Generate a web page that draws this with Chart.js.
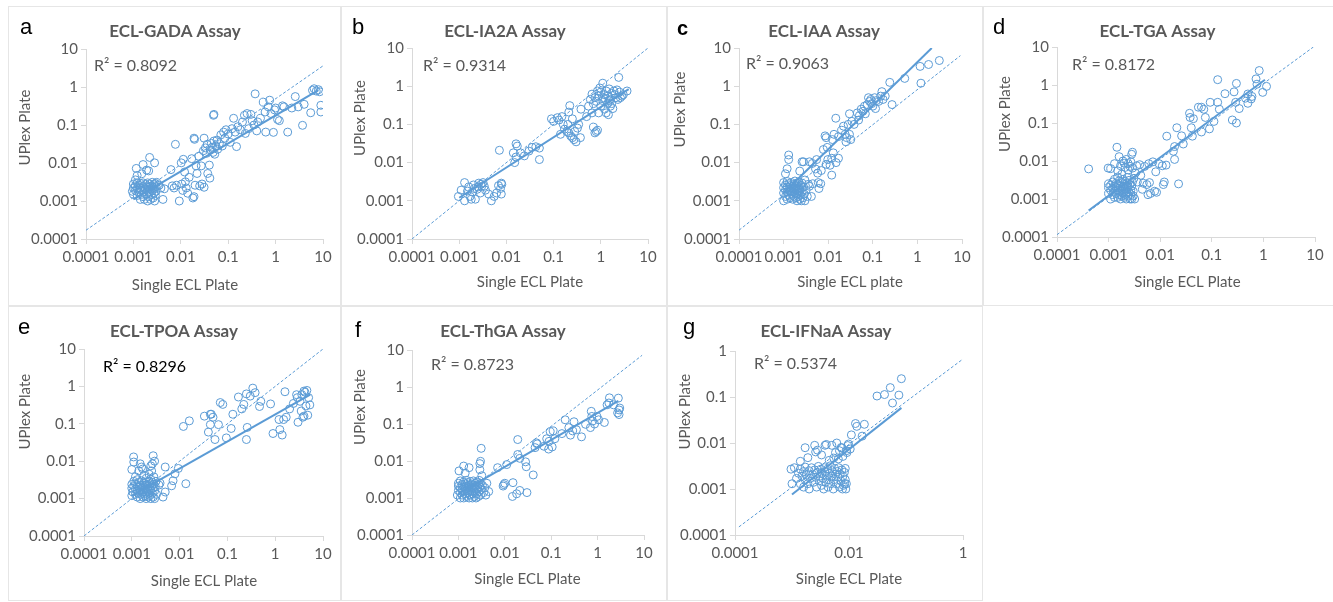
<!DOCTYPE html>
<html>
<head>
<meta charset="utf-8">
<title>Single ECL vs UPlex plate</title>
<script src="https://cdn.jsdelivr.net/npm/chart.js@4.4.1/dist/chart.umd.min.js"></script>
<style>
  body { margin: 0; background: #fff; width: 1333px; height: 602px; overflow: hidden; position: relative; }
  .frame { position: absolute; box-sizing: border-box; border: 1.5px solid #e6e6e6; }
  canvas { position: absolute; }
</style>
</head>
<body>
<script>
// axis ticks
const decadeTicks = [0.0001, 0.001, 0.01, 0.1, 1, 10];
const decadeLabels = ['0.0001', '0.001', '0.01', '0.1', '1', '10'];
const ifnXTicks = [0.0001, 0.01, 1];
const ifnXLabels = ['0.0001', '0.01', '1'];
const ifnYTicks = [0.0001, 0.001, 0.01, 0.1, 1];
const ifnYLabels = ['0.0001', '0.001', '0.01', '0.1', '1'];

// a - GADA  [single ECL, UPlex]
const gadaPoints = [
  [0.00095,0.0018],[0.001,0.0015],[0.001,0.0022],[0.001,0.0028],[0.0011,0.0019],[0.0011,0.0025],[0.0011,0.0036],[0.0012,0.0014],
  [0.0012,0.0021],[0.0012,0.003],[0.0013,0.0017],[0.0013,0.0026],[0.0014,0.0011],[0.0014,0.0022],[0.0014,0.0029],[0.0015,0.0015],
  [0.0015,0.0019],[0.0016,0.0013],[0.0016,0.0024],[0.0016,0.003],[0.0017,0.0018],[0.0017,0.0011],[0.0018,0.0021],[0.0018,0.0027],
  [0.0019,0.0015],[0.0019,0.0024],[0.002,0.001],[0.002,0.0019],[0.002,0.003],[0.0021,0.0013],[0.0021,0.0023],[0.0022,0.0017],
  [0.0022,0.0028],[0.0023,0.0011],[0.0023,0.0021],[0.0024,0.0015],[0.0024,0.0025],[0.0025,0.0031],[0.0025,0.0019],[0.0026,0.0012],
  [0.0026,0.0023],[0.0027,0.0016],[0.0027,0.0027],[0.0028,0.001],[0.0028,0.0021],[0.0029,0.0014],[0.0029,0.0029],[0.003,0.0018],
  [0.003,0.0024],[0.0031,0.0031],[0.00115,0.0072],[0.0016,0.0091],[0.0022,0.014],[0.0028,0.0101],[0.0019,0.0065],[0.0015,0.0052],
  [0.0021,0.0062],[0.0012,0.0047],[0.0035,0.0026],[0.0038,0.0022],[0.0042,0.0011],[0.0045,0.0021],[0.0062,0.0067],[0.0066,0.0025],
  [0.0072,0.0022],[0.0077,0.031],[0.0081,0.0026],[0.0093,0.001],[0.0102,0.0101],[0.0105,0.0028],[0.011,0.0019],[0.0113,0.0125],
  [0.012,0.0058],[0.0125,0.0032],[0.013,0.0022],[0.014,0.0016],[0.015,0.0042],[0.017,0.013],[0.018,0.0012],[0.019,0.0013],
  [0.019,0.045],[0.0195,0.042],[0.02,0.0026],[0.021,0.0084],[0.022,0.0053],[0.024,0.015],[0.025,0.0025],[0.027,0.0084],
  [0.028,0.0028],[0.031,0.0023],[0.031,0.045],[0.03,0.021],[0.033,0.025],[0.035,0.018],[0.036,0.031],[0.037,0.0053],
  [0.04,0.0088],[0.041,0.004],[0.042,0.022],[0.044,0.033],[0.046,0.026],[0.048,0.019],[0.049,0.18],[0.05,0.19],
  [0.05,0.038],[0.052,0.017],[0.055,0.028],[0.058,0.04],[0.06,0.023],[0.065,0.032],[0.07,0.055],[0.075,0.028],
  [0.08,0.065],[0.085,0.045],[0.09,0.075],[0.1,0.058],[0.11,0.035],[0.12,0.08],[0.13,0.15],[0.14,0.065],
  [0.15,0.027],[0.16,0.09],[0.18,0.075],[0.2,0.12],[0.22,0.18],[0.23,0.06],[0.25,0.2],[0.27,0.08],
  [0.3,0.19],[0.32,0.13],[0.35,0.1],[0.37,0.66],[0.4,0.07],[0.42,0.12],[0.48,0.15],[0.55,0.4],
  [0.6,0.22],[0.62,0.065],[0.7,0.3],[0.75,0.45],[0.8,0.2],[0.9,0.064],[0.95,0.25],[1.0,0.28],
  [1.1,0.14],[1.2,0.13],[1.4,0.32],[1.5,0.3],[1.8,0.065],[2.2,0.28],[2.6,0.56],[3.0,0.3],
  [3.7,0.098],[4.0,0.35],[5.5,0.21],[6.0,0.82],[6.5,0.9],[7.2,0.78],[8.0,0.85],[8.5,0.75],[9.0,0.33],[9.0,0.22]
];
const gadaTrend = [[0.001, 0.0011], [8, 0.83]];
const gadaDiag = [[0.0001, 0.00017], [10, 3.6]];

// b - IA2A
const ia2aPoints = [
  [0.00096,0.0013],[0.0011,0.0019],[0.0013,0.001],[0.0013,0.003],[0.0016,0.0023],[0.0017,0.0013],[0.0019,0.0017],[0.002,0.0026],
  [0.0022,0.0011],[0.0024,0.002],[0.0026,0.0029],[0.003,0.0024],[0.0032,0.003],[0.0028,0.0016],[0.0036,0.0019],[0.0042,0.0015],
  [0.0048,0.001],[0.0055,0.0013],[0.0062,0.0016],[0.0068,0.0025],[0.0075,0.0021],[0.0078,0.0029],[0.008,0.0027],[0.0078,0.0015],
  [0.0025,0.0023],[0.0021,0.0021],[0.0015,0.0018],[0.0029,0.0027],[0.0034,0.0024],[0.0018,0.0011],
  [0.0071,0.021],[0.014,0.018],[0.016,0.031],[0.017,0.027],[0.015,0.01],[0.016,0.014],[0.02,0.018],[0.024,0.015],
  [0.03,0.02],[0.035,0.025],[0.042,0.026],[0.05,0.024],[0.05,0.012],
  [0.09,0.14],[0.1,0.12],[0.12,0.15],[0.13,0.13],[0.15,0.16],[0.16,0.1],[0.14,0.055],[0.17,0.075],
  [0.19,0.065],[0.21,0.21],[0.21,0.06],[0.22,0.31],[0.23,0.05],[0.25,0.045],[0.27,0.04],[0.28,0.065],
  [0.3,0.035],[0.32,0.08],[0.34,0.1],[0.37,0.045],[0.38,0.25],[0.25,0.14],[0.2,0.1],
  [0.55,0.3],[0.6,0.45],[0.65,0.62],[0.7,0.085],[0.75,0.06],[0.8,0.065],[0.85,0.07],[0.75,0.5],
  [0.85,0.75],[0.9,0.55],[1.0,0.7],[1.1,0.42],[1.15,0.5],[1.2,0.6],[1.3,0.75],[1.4,0.55],
  [1.5,0.42],[1.6,0.45],[1.7,0.35],[1.8,0.26],[2.0,0.6],[2.1,0.5],[2.3,0.45],[2.5,0.7],
  [2.8,0.55],[3.0,0.6],[3.6,0.75],[2.4,1.7],[1.1,1.2],[1.0,0.3],[1.2,0.25],[1.4,0.35],
  [1.6,0.3],[0.9,0.2],[1.3,0.2],[1.7,0.65],[2.2,0.8],[0.8,0.4],[0.95,0.9],[1.5,0.85],
  [1.9,0.75],[0.65,0.2],[0.7,0.35],[1.25,0.45],[2.6,0.5],[0.5,0.16],[1.45,0.18]
];
const ia2aTrend = [[0.001, 0.0012], [3.9, 0.84]];
const ia2aDiag = [[0.0001, 0.0001], [10, 10]];

// c - IAA
const iaaPoints = [
  [0.001,0.001],[0.001,0.0016],[0.001,0.0022],[0.001,0.003],[0.0011,0.0013],[0.0011,0.0019],[0.0011,0.0026],[0.0012,0.0011],
  [0.0012,0.0017],[0.0012,0.0023],[0.0012,0.0032],[0.0013,0.0014],[0.0013,0.002],[0.0013,0.0028],[0.0014,0.0012],[0.0014,0.0018],
  [0.0014,0.0025],[0.0015,0.0015],[0.0015,0.0021],[0.0015,0.003],[0.0016,0.0011],[0.0016,0.0017],[0.0016,0.0024],[0.0017,0.0013],
  [0.0017,0.002],[0.0017,0.0027],[0.0018,0.0016],[0.0018,0.0022],[0.0018,0.0033],[0.0019,0.0012],[0.0019,0.0019],[0.0019,0.0025],
  [0.002,0.001],[0.002,0.0015],[0.002,0.0021],[0.002,0.0029],[0.0021,0.0013],[0.0021,0.0018],[0.0021,0.0024],[0.0022,0.0016],
  [0.0022,0.0022],[0.0022,0.0031],[0.0023,0.0011],[0.0023,0.0019],[0.0024,0.0014],[0.0024,0.0026],[0.0025,0.001],[0.0025,0.0021],
  [0.0026,0.0017],[0.0026,0.0029],[0.0027,0.0012],[0.0028,0.0023],[0.0029,0.0015],[0.003,0.001],[0.003,0.0035],[0.0032,0.0019],
  [0.0034,0.0013],[0.0036,0.0027],
  [0.0013,0.0158],[0.0013,0.012],[0.0012,0.0069],[0.0011,0.0051],[0.0026,0.0105],[0.0028,0.0105],[0.0038,0.0105],[0.0044,0.0095],
  [0.0023,0.006],[0.0055,0.012],[0.0052,0.0068],[0.0058,0.0053],[0.006,0.003],[0.0068,0.0028],[0.0062,0.0021],[0.0045,0.0028],
  [0.0042,0.0013],[0.0038,0.0024],[0.007,0.0062],[0.0078,0.022],[0.0085,0.05],[0.009,0.045],[0.0095,0.025],[0.009,0.009],
  [0.0098,0.012],[0.011,0.0085],[0.012,0.0047],[0.012,0.013],[0.013,0.018],[0.0148,0.145],[0.0135,0.055],[0.0125,0.04],
  [0.015,0.01],[0.017,0.013],[0.017,0.048],[0.02,0.07],[0.022,0.09],[0.024,0.055],[0.025,0.035],[0.026,0.045],
  [0.028,0.1],[0.03,0.19],[0.03,0.055],[0.032,0.04],[0.034,0.12],[0.038,0.1],[0.045,0.2],[0.048,0.13],
  [0.05,0.17],[0.055,0.25],[0.06,0.22],[0.065,0.3],[0.068,0.19],[0.075,0.33],[0.08,0.5],[0.085,0.4],
  [0.09,0.45],[0.095,0.35],[0.1,0.3],[0.11,0.5],[0.115,0.26],[0.12,0.42],[0.135,0.4],[0.15,0.55],
  [0.16,0.72],[0.17,0.45],[0.19,0.55],[0.24,1.26],[0.27,0.33],[0.52,1.6],[1.15,3.3],[1.2,1.2],[1.78,3.7],[3.1,4.7]
];
const iaaTrend = [[0.001, 0.0016], [2.1, 10]];
const iaaDiag = [[0.0001, 0.00017], [9.2, 6.3]];

// d - TGA
const tgaPoints = [
  [0.001,0.0014],[0.001,0.002],[0.001,0.0025],[0.0011,0.001],[0.0011,0.0017],[0.0011,0.0023],[0.0012,0.0013],[0.0012,0.0019],
  [0.0012,0.0028],[0.0013,0.0011],[0.0013,0.0016],[0.0013,0.0022],[0.0013,0.0033],[0.0014,0.0014],[0.0014,0.002],[0.0014,0.0026],
  [0.0015,0.0011],[0.0015,0.0017],[0.0015,0.0024],[0.0015,0.0038],[0.0016,0.0013],[0.0016,0.0019],[0.0016,0.003],[0.0017,0.001],
  [0.0017,0.0016],[0.0017,0.0022],[0.0018,0.0012],[0.0018,0.0018],[0.0018,0.0027],[0.0018,0.0045],[0.0019,0.0014],[0.0019,0.0021],
  [0.0019,0.0033],[0.002,0.0011],[0.002,0.0016],[0.002,0.0024],[0.0021,0.0013],[0.0021,0.0019],[0.0021,0.0029],[0.0022,0.001],
  [0.0022,0.0015],[0.0022,0.0022],[0.0023,0.0018],[0.0023,0.0026],[0.0023,0.0037],[0.0024,0.0012],[0.0024,0.0021],[0.0025,0.0015],
  [0.0025,0.0031],[0.0026,0.001],[0.0026,0.0024],[0.0027,0.0017],[0.0027,0.0013],[0.0028,0.0022],[0.0028,0.001],[0.0029,0.0028],
  [0.003,0.0016],[0.003,0.0012],[0.0031,0.0035],[0.0032,0.001],
  [0.00041,0.0062],[0.00098,0.0065],[0.0011,0.0063],[0.00145,0.023],[0.0016,0.013],[0.0013,0.0085],[0.0017,0.0075],[0.0019,0.01],
  [0.002,0.0088],[0.0021,0.0068],[0.0022,0.011],[0.0024,0.0085],[0.0026,0.0072],[0.0027,0.0095],[0.0028,0.015],[0.0029,0.017],
  [0.0015,0.0055],[0.0024,0.0058],[0.0029,0.0065],[0.0033,0.0048],[0.0035,0.0075],[0.0036,0.0028],[0.004,0.008],[0.0042,0.0042],
  [0.0045,0.0018],[0.0047,0.0026],[0.005,0.0072],[0.0055,0.0024],[0.006,0.0085],[0.0058,0.0013],[0.0062,0.0027],[0.0065,0.0014],
  [0.0072,0.0095],[0.0078,0.0016],[0.0082,0.0052],[0.0085,0.0015],[0.0095,0.0085],[0.011,0.0075],[0.0115,0.0024],[0.012,0.0028],
  [0.013,0.0078],[0.0134,0.045],[0.018,0.018],[0.019,0.011],[0.019,0.024],[0.021,0.075],[0.0227,0.0025],[0.026,0.046],
  [0.028,0.028],[0.037,0.18],[0.038,0.14],[0.04,0.075],[0.042,0.045],[0.044,0.13],[0.055,0.26],[0.063,0.26],
  [0.07,0.23],[0.063,0.058],[0.075,0.14],[0.09,0.07],[0.093,0.35],[0.11,0.11],[0.13,0.35],[0.13,1.38],
  [0.14,0.23],[0.18,0.59],[0.25,0.12],[0.27,0.66],[0.3,0.1],[0.3,1.1],[0.29,0.35],[0.34,0.24],
  [0.45,0.45],[0.5,0.58],[0.5,0.33],[0.58,0.43],[0.6,0.5],[0.72,1.45],[0.75,1.05],[0.83,2.4],[0.97,0.64],[1.15,0.92]
];
const tgaTrend = [[0.00041, 0.0005], [1.07, 1.38]];
const tgaDiag = [[0.0001, 0.000115], [9.3, 10]];

// e - TPOA
const tpoaPoints = [
  [0.001,0.0012],[0.001,0.0019],[0.001,0.0024],[0.001,0.006],[0.00105,0.0015],[0.0011,0.0021],[0.0011,0.0029],[0.0011,0.0095],
  [0.00109,0.013],[0.0012,0.0013],[0.0012,0.0018],[0.0012,0.0025],[0.0012,0.0038],[0.0013,0.0011],[0.0013,0.0016],[0.0013,0.0022],
  [0.0013,0.0032],[0.0014,0.0014],[0.0014,0.002],[0.0014,0.0027],[0.0014,0.0055],[0.0015,0.001],[0.0015,0.0017],[0.0015,0.0023],
  [0.0015,0.0085],[0.0016,0.0013],[0.0016,0.0019],[0.0016,0.003],[0.0016,0.007],[0.0017,0.0011],[0.0017,0.0015],[0.0017,0.0021],
  [0.0017,0.0062],[0.0018,0.0017],[0.0018,0.0026],[0.0018,0.0042],[0.0019,0.0012],[0.0019,0.0019],[0.0019,0.0023],[0.002,0.001],
  [0.002,0.0015],[0.002,0.0028],[0.002,0.0035],[0.0021,0.0013],[0.0021,0.0018],[0.0021,0.0024],[0.0022,0.0011],[0.0022,0.0016],
  [0.0022,0.0021],[0.0023,0.0014],[0.0023,0.0029],[0.0023,0.0045],[0.0024,0.0012],[0.0024,0.0019],[0.0024,0.0025],[0.0025,0.001],
  [0.0025,0.0017],[0.0025,0.0033],[0.0025,0.0075],[0.0026,0.0022],[0.0026,0.0055],[0.0027,0.0014],[0.0027,0.0027],[0.0027,0.0085],
  [0.0028,0.0011],[0.0028,0.0019],[0.0028,0.014],[0.0029,0.0024],[0.0029,0.0038],[0.003,0.001],[0.003,0.0016],[0.003,0.01],
  [0.0031,0.0021],[0.0032,0.0029],[0.0033,0.0013],
  [0.0037,0.0023],[0.0039,0.0026],[0.0045,0.0011],[0.005,0.0015],[0.005,0.007],[0.0068,0.0022],[0.0073,0.003],[0.008,0.0046],
  [0.0094,0.0064],[0.0135,0.0025],[0.012,0.085],[0.016,0.12],[0.033,0.16],[0.04,0.06],[0.044,0.18],[0.046,0.18],
  [0.044,0.095],[0.05,0.15],[0.055,0.038],[0.065,0.095],[0.071,0.37],[0.08,0.33],[0.095,0.042],[0.12,0.075],
  [0.13,0.18],[0.17,0.52],[0.2,0.25],[0.22,0.33],[0.25,0.63],[0.26,0.08],[0.25,0.038],[0.3,0.55],
  [0.34,0.9],[0.38,0.68],[0.47,0.29],[0.5,0.4],[0.8,0.34],[0.9,0.055],[1.2,0.13],[1.25,0.07],
  [1.4,0.05],[1.6,0.72],[1.5,0.13],[1.7,0.15],[2.0,0.25],[2.4,0.35],[2.8,0.6],[3.0,0.11],
  [3.3,0.4],[3.5,0.22],[3.8,0.15],[4.0,0.16],[4.2,0.7],[4.4,0.3],[4.6,0.78],[5.0,0.5],
  [5.3,0.32],[4.8,0.17],[4.0,0.75],[2.9,0.5],[3.6,0.6]
];
const tpoaTrend = [[0.001, 0.0012], [5.4, 0.6]];
const tpoaDiag = [[0.0001, 0.0001], [10, 10]];

// f - ThGA
const thgaPoints = [
  [0.00095,0.0012],[0.001,0.0016],[0.001,0.0021],[0.001,0.0025],[0.0011,0.001],[0.0011,0.0014],[0.0011,0.0019],[0.0011,0.0029],
  [0.0012,0.0012],[0.0012,0.0017],[0.0012,0.0023],[0.0013,0.001],[0.0013,0.0015],[0.0013,0.002],[0.0013,0.0027],[0.0014,0.0013],
  [0.0014,0.0018],[0.0014,0.0024],[0.0015,0.0011],[0.0015,0.0016],[0.0015,0.0021],[0.0015,0.003],[0.0016,0.0014],[0.0016,0.0019],
  [0.0016,0.0026],[0.0017,0.001],[0.0017,0.0017],[0.0017,0.0022],[0.0018,0.0012],[0.0018,0.0015],[0.0018,0.0028],[0.0019,0.002],
  [0.0019,0.0024],[0.002,0.001],[0.002,0.0013],[0.002,0.0018],[0.0021,0.0022],[0.0021,0.0016],[0.0021,0.0029],[0.0022,0.0011],
  [0.0022,0.0019],[0.0023,0.0014],[0.0023,0.0025],[0.0024,0.001],[0.0024,0.0017],[0.0024,0.0021],[0.0025,0.0013],[0.0025,0.0027],
  [0.0026,0.0019],[0.0027,0.0011],[0.0027,0.0023],[0.0028,0.0015],[0.0028,0.003],[0.0029,0.002],[0.003,0.0012],[0.003,0.0025],
  [0.0031,0.0017],[0.0033,0.0022],[0.0035,0.0014],[0.0037,0.0019],[0.0039,0.0012],[0.0041,0.0025],[0.0045,0.0015],
  [0.00103,0.0054],[0.0013,0.0073],[0.0017,0.0066],[0.0014,0.0047],[0.0029,0.0085],[0.003,0.0098],[0.0031,0.022],[0.0029,0.0058],
  [0.0032,0.004],[0.007,0.0066],[0.011,0.008],[0.0095,0.0023],[0.01,0.0025],[0.0092,0.0021],[0.015,0.0026],[0.0146,0.0011],
  [0.019,0.015],[0.019,0.038],[0.021,0.0118],[0.018,0.0013],[0.021,0.0016],[0.028,0.0095],[0.029,0.007],[0.03,0.0014],
  [0.041,0.0042],[0.045,0.023],[0.048,0.031],[0.05,0.029],[0.07,0.025],[0.08,0.04],[0.088,0.021],[0.095,0.062],
  [0.09,0.034],[0.11,0.065],[0.105,0.024],[0.12,0.04],[0.17,0.055],[0.2,0.13],[0.24,0.08],[0.26,0.05],
  [0.29,0.065],[0.31,0.115],[0.35,0.07],[0.45,0.045],[0.55,0.098],[0.7,0.08],[0.73,0.22],[0.75,0.16],
  [0.78,0.12],[0.86,0.1],[0.97,0.16],[1.05,0.13],[1.4,0.11],[1.6,0.33],[1.8,0.51],[1.75,0.37],
  [2.2,0.33],[2.8,0.5],[2.9,0.24],[2.9,0.18],[3.0,0.27],[2.7,0.2]
];
const thgaTrend = [[0.001, 0.0013], [2.8, 0.42]];
const thgaDiag = [[0.0001, 0.0001], [9.1, 7.2]];

// g - IFNaA
const ifnPoints = [
  [0.0012,0.0017],[0.0013,0.0022],[0.0014,0.0013],[0.0014,0.0027],[0.0015,0.0019],[0.0016,0.0011],[0.0016,0.0024],[0.0017,0.0016],
  [0.0017,0.003],[0.0018,0.002],[0.0019,0.0013],[0.002,0.0025],[0.002,0.001],[0.0021,0.0017],[0.0022,0.0029],[0.0023,0.0021],
  [0.0024,0.0014],[0.0025,0.0026],[0.0026,0.0018],[0.0027,0.0011],[0.0028,0.0023],[0.0029,0.0031],[0.003,0.0015],[0.0031,0.0019],
  [0.0032,0.0027],[0.0033,0.0012],[0.0034,0.0022],[0.0035,0.0017],[0.0036,0.001],[0.0037,0.0029],[0.0038,0.0024],[0.0039,0.0014],
  [0.004,0.0019],[0.0042,0.0027],[0.0043,0.0011],[0.0044,0.0016],[0.0045,0.0022],[0.0047,0.0032],[0.0048,0.0013],[0.005,0.0019],
  [0.0051,0.0025],[0.0053,0.001],[0.0055,0.0016],[0.0056,0.0028],[0.0058,0.0021],[0.006,0.0013],[0.0062,0.0024],[0.0064,0.0018],
  [0.0066,0.0029],[0.0068,0.0011],[0.007,0.0021],[0.0072,0.0015],[0.0075,0.0026],[0.0078,0.0019],[0.008,0.0012],[0.0083,0.0023],
  [0.0086,0.0016],[0.009,0.0013],[0.0088,0.001],
  [0.00096,0.0027],[0.0011,0.0029],[0.001,0.0013],[0.0014,0.004],[0.0017,0.0079],[0.0019,0.0048],[0.0025,0.0089],[0.0026,0.0064],
  [0.0028,0.007],[0.0033,0.0055],[0.0038,0.0089],[0.004,0.0093],[0.005,0.0089],[0.0054,0.0047],[0.0061,0.01],[0.0073,0.008],
  [0.0075,0.0078],[0.0078,0.0051],[0.0086,0.0028],[0.0084,0.0013],[0.0077,0.001],[0.0098,0.0095],[0.0095,0.0088],[0.0105,0.0074],
  [0.011,0.015],[0.013,0.0265],[0.0137,0.023],[0.017,0.0141],[0.0186,0.0255],[0.031,0.105],[0.042,0.113],[0.053,0.16],
  [0.058,0.074],[0.075,0.11],[0.083,0.25],[0.0065,0.0045],[0.0045,0.0042],[0.0058,0.0062],[0.0068,0.0068],[0.0092,0.0062],[0.009,0.0068]
];
const ifnTrend = [[0.001, 0.00076], [0.083, 0.058]];
const ifnDiag = [[0.000117, 0.00015], [1, 0.67]];

const blue = '#5b9bd5';
const grey = '#595959';

// panel placement on the page (box = frame, plot = wanted chart area, text anchors in page px)
const panels = [
  { letter: 'a', title: 'ECL-GADA Assay', r2: 'R² = 0.8092', xName: 'Single ECL Plate',
    points: gadaPoints, trend: gadaTrend, diag: gadaDiag,
    xTicks: decadeTicks, xLabels: decadeLabels, yTicks: decadeTicks, yLabels: decadeLabels,
    box: [8, 6, 333, 300], plot: [86, 49, 323, 239],
    at: { letter: [20, 34], title: [175, 36.7], r2: [94, 70.7], yName: [25, 127.5], xName: [185, 290] } },
  { letter: 'b', title: 'ECL-IA2A Assay', r2: 'R² = 0.9314', xName: 'Single ECL Plate',
    points: ia2aPoints, trend: ia2aTrend, diag: ia2aDiag,
    xTicks: decadeTicks, xLabels: decadeLabels, yTicks: decadeTicks, yLabels: decadeLabels,
    box: [341, 6, 326, 300], plot: [412, 48, 648, 239],
    at: { letter: [352, 34], title: [505, 36.7], r2: [423, 70.7], yName: [360, 118], xName: [530, 287.3] } },
  { letter: 'c', letterBold: true, title: 'ECL-IAA Assay', r2: 'R² = 0.9063', xName: 'Single ECL plate',
    points: iaaPoints, trend: iaaTrend, diag: iaaDiag,
    xTicks: decadeTicks, xLabels: decadeLabels, yTicks: decadeTicks, yLabels: decadeLabels,
    box: [667, 6, 316, 300], plot: [739, 48, 962, 239],
    at: { letter: [677, 34.7], title: [824, 36.7], r2: [746, 69], yName: [680, 109.5], xName: [850, 287.3] } },
  { letter: 'd', title: 'ECL-TGA Assay', r2: 'R² = 0.8172', xName: 'Single ECL Plate',
    points: tgaPoints, trend: tgaTrend, diag: tgaDiag,
    xTicks: decadeTicks, xLabels: decadeLabels, yTicks: decadeTicks, yLabels: decadeLabels,
    box: [983, 6, 352, 300], plot: [1057, 47, 1315, 237],
    at: { letter: [993, 34], title: [1157.5, 36.7], r2: [1072, 70], yName: [1005, 114], xName: [1187.5, 287.3] } },
  { letter: 'e', title: 'ECL-TPOA Assay', r2: 'R² = 0.8296', r2Color: '#000', xName: 'Single ECL Plate',
    points: tpoaPoints, trend: tpoaTrend, diag: tpoaDiag,
    xTicks: decadeTicks, xLabels: decadeLabels, yTicks: decadeTicks, yLabels: decadeLabels,
    box: [8, 306, 333, 295], plot: [84, 349, 323, 536],
    at: { letter: [18, 334.3], title: [174, 337.3], r2: [103, 371.7], yName: [25, 411.7], xName: [204, 585.7] } },
  { letter: 'f', title: 'ECL-ThGA Assay', r2: 'R² = 0.8723', xName: 'Single ECL Plate',
    points: thgaPoints, trend: thgaTrend, diag: thgaDiag,
    xTicks: decadeTicks, xLabels: decadeLabels, yTicks: decadeTicks, yLabels: decadeLabels,
    box: [341, 306, 326, 295], plot: [412, 350, 644, 535],
    at: { letter: [355, 336.7], title: [503, 337.3], r2: [431, 370], yName: [360, 407], xName: [527.5, 584.3] } },
  { letter: 'g', title: 'ECL-IFNaA Assay', r2: 'R² = 0.5374', xName: 'Single ECL Plate',
    points: ifnPoints, trend: ifnTrend, diag: ifnDiag,
    xTicks: ifnXTicks, xLabels: ifnXLabels, yTicks: ifnYTicks, yLabels: ifnYLabels,
    box: [667, 306, 316, 295], plot: [735, 351, 963, 535],
    at: { letter: [683, 334], title: [826, 336.7], r2: [754, 369.3], yName: [685, 411.7], xName: [849, 584.3] } }
];

// fixed axis boxes so the plot areas land where they should
const Y_AXIS_W = 62;
const X_AXIS_H = 30;

// letter, title, R² note and axis names
const panelText = {
  id: 'panelText',
  afterDraw(chart, args, opts) {
    const p = opts.panel;
    const ctx = chart.ctx;
    const ox = p.box[0], oy = p.box[1];
    ctx.save();
    ctx.textBaseline = 'alphabetic';

    ctx.fillStyle = '#000';
    ctx.textAlign = 'left';
    ctx.font = (p.letterBold ? 'bold 20px' : '22px') + ' "Liberation Sans", Arial, sans-serif';
    ctx.fillText(p.letter, p.at.letter[0] - ox, p.at.letter[1] - oy);

    ctx.fillStyle = grey;
    ctx.textAlign = 'center';
    ctx.font = 'bold 17px Lato, sans-serif';
    ctx.fillText(p.title, p.at.title[0] - ox, p.at.title[1] - oy);

    ctx.fillStyle = p.r2Color || grey;
    ctx.textAlign = 'left';
    ctx.font = '16px Lato, sans-serif';
    ctx.fillText(p.r2, p.at.r2[0] - ox, p.at.r2[1] - oy);

    ctx.fillStyle = grey;
    ctx.textAlign = 'center';
    ctx.font = '15px Lato, sans-serif';
    ctx.fillText(p.xName, p.at.xName[0] - ox, p.at.xName[1] - oy);

    ctx.translate(p.at.yName[0] - ox, p.at.yName[1] - oy);
    ctx.rotate(-Math.PI / 2);
    ctx.textBaseline = 'middle';
    ctx.fillText('UPlex Plate', 0, 0);
    ctx.restore();
  }
};

function logAxis(ticks, labels, horizontal) {
  return {
    type: 'logarithmic',
    min: ticks[0],
    max: ticks[ticks.length - 1],
    afterBuildTicks: s => { s.ticks = ticks.map(v => ({ value: v })); },
    afterFit: s => {
      if (horizontal) s.height = X_AXIS_H; else s.width = Y_AXIS_W;
    },
    ticks: {
      callback: (v, i) => labels[i],
      color: grey,
      font: { family: 'Lato', size: 15 },
      padding: horizontal ? 4 : 3,
      autoSkip: false,
      maxRotation: 0
    },
    grid: { drawOnChartArea: false, drawTicks: true, tickLength: 5, color: '#d9d9d9' },
    border: { display: true, color: '#d9d9d9', width: 1 }
  };
}

function toXY(pairs) {
  return pairs.map(([x, y]) => ({ x: x, y: y }));
}

panels.forEach(p => {
  const [bx, by, bw, bh] = p.box;
  const [L, T, R, B] = p.plot;

  const frame = document.createElement('div');
  frame.className = 'frame';
  Object.assign(frame.style, { left: bx + 'px', top: by + 'px', width: bw + 'px', height: bh + 'px' });
  document.body.appendChild(frame);

  const canvas = document.createElement('canvas');
  canvas.width = bw;
  canvas.height = bh;
  Object.assign(canvas.style, { left: bx + 'px', top: by + 'px', width: bw + 'px', height: bh + 'px' });
  document.body.appendChild(canvas);

  new Chart(canvas.getContext('2d'), {
    type: 'scatter',
    data: {
      datasets: [
        {
          data: toXY(p.points),
          pointRadius: 4,
          pointBorderWidth: 1,
          pointBorderColor: blue,
          pointBackgroundColor: 'rgba(255,255,255,0)',
          borderColor: blue
        },
        {
          data: toXY(p.trend),
          showLine: true,
          pointRadius: 0,
          borderColor: blue,
          borderWidth: 2
        },
        {
          data: toXY(p.diag),
          showLine: true,
          pointRadius: 0,
          borderColor: blue,
          borderWidth: 1,
          borderDash: [3, 2]
        }
      ]
    },
    options: {
      responsive: false,
      animation: false,
      devicePixelRatio: 1,
      events: [],
      layout: {
        padding: {
          left: L - bx - Y_AXIS_W,
          top: T - by,
          right: bx + bw - R,
          bottom: by + bh - B - X_AXIS_H
        }
      },
      scales: {
        x: logAxis(p.xTicks, p.xLabels, true),
        y: logAxis(p.yTicks, p.yLabels, false)
      },
      plugins: {
        legend: { display: false },
        tooltip: { enabled: false },
        panelText: { panel: p }
      }
    },
    plugins: [panelText]
  });
});
</script>
</body>
</html>
